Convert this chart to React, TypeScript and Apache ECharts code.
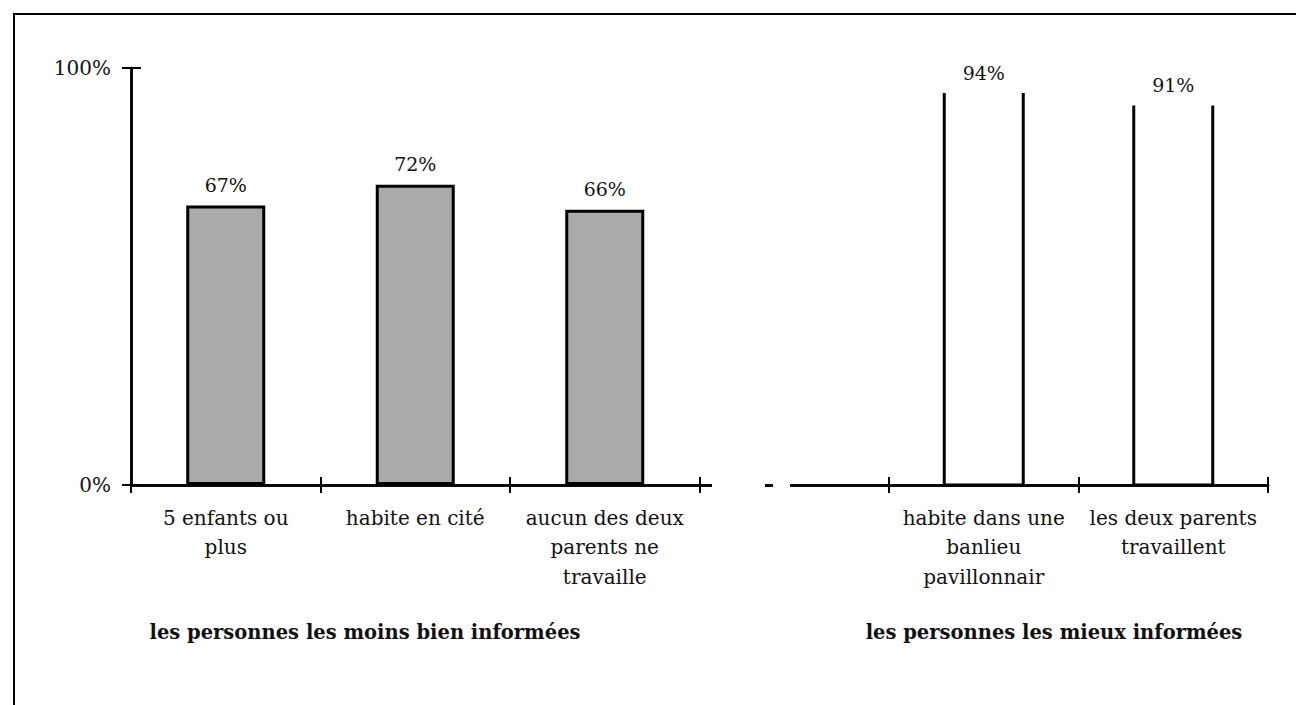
import React, { useEffect, useRef } from "react";
import * as echarts from "echarts";

const categories = [
  "5 enfants ou\nplus",
  "habite en cité",
  "aucun des deux\nparents ne\ntravaille",
  "",
  "habite dans une\nbanlieu\npavillonnair",
  "les deux parents\ntravaillent",
];
const leastInformed: (number | string)[] = [67, 72, 66, "-", "-", "-"];
const bestInformed: (number | string)[] = ["-", "-", "-", "-", 94, 91];
const yTicks = [0, 100];
const groupLeft = "les personnes les moins bien informées";
const groupRight = "les personnes les mieux informées";

const SERIF = "DejaVu Serif";

export default function App() {
  const ref = useRef<HTMLDivElement>(null);
  useEffect(() => {
    if (!ref.current) return;
    const chart = echarts.init(ref.current, null, { renderer: "svg" });
    const barW = 79;
    const gridBox = { left: 131, right: 28, top: 68, bottom: 220, containLabel: false };
    const lineStyle = { color: "#000", width: 2.5 };
    chart.setOption({
      animation: false,
      backgroundColor: "#ffffff",
      grid: [{ ...gridBox }, { ...gridBox }],
      xAxis: [
        {
          type: "category",
          gridIndex: 0,
          data: categories,
          position: "bottom",
          boundaryGap: true,
          axisLine: { show: true, onZero: false, lineStyle },
          axisTick: { show: true, length: 8, interval: 0, lineStyle: { color: "#000", width: 2 } },
          axisLabel: {
            interval: 0,
            margin: 18,
            fontFamily: SERIF,
            fontSize: 20,
            lineHeight: 29.5,
            color: "#111",
            align: "center",
          },
          splitLine: { show: false },
        },
        {
          type: "category",
          gridIndex: 1,
          data: categories,
          position: "bottom",
          boundaryGap: true,
          axisLine: { show: true, onZero: false, lineStyle },
          axisTick: { show: true, inside: true, length: 8, interval: 0, lineStyle: { color: "#000", width: 2 } },
          axisLabel: { show: false },
          splitLine: { show: false },
        },
      ],
      yAxis: [
        {
          type: "value",
          gridIndex: 0,
          min: 0,
          max: 100,
          interval: 100,
          position: "left",
          axisLine: { show: true, onZero: false, lineStyle },
          axisTick: { show: true, length: 9, lineStyle: { color: "#000", width: 2 } },
          axisLabel: {
            margin: 20,
            fontFamily: SERIF,
            fontSize: 20,
            color: "#111",
            formatter: (v: number) => (yTicks.indexOf(v) >= 0 ? v + "%" : ""),
          },
          splitLine: { show: false },
        },
        {
          type: "value",
          gridIndex: 1,
          min: 0,
          max: 100,
          interval: 100,
          position: "left",
          axisLine: { show: true, onZero: false, lineStyle },
          axisTick: { show: true, inside: true, length: 10, lineStyle: { color: "#000", width: 2 } },
          axisLabel: { show: false },
          splitLine: { show: false },
        },
      ],
      series: [
        {
          type: "bar",
          xAxisIndex: 0,
          yAxisIndex: 0,
          data: leastInformed,
          barWidth: barW,
          itemStyle: { color: "#aaaaaa", borderColor: "#000", borderWidth: 3 },
          label: {
            show: true,
            position: "top",
            distance: 11,
            fontFamily: SERIF,
            fontSize: 19,
            color: "#111",
            formatter: (p: any) => p.value + "%",
          },
          z: 3,
        },
        {
          type: "custom",
          xAxisIndex: 1,
          yAxisIndex: 1,
          data: bestInformed.map((v, i) => [i, v]),
          encode: { x: 0, y: 1 },
          renderItem: (params: any, api: any) => {
            const v = api.value(1);
            if (v === "-" || v === undefined || isNaN(v)) return null;
            const top = api.coord([api.value(0), v]);
            const base = api.coord([api.value(0), 0]);
            const l = top[0] - barW / 2;
            const r = top[0] + barW / 2;
            return {
              type: "group",
              children: [
                {
                  type: "polyline",
                  shape: { points: [[l, top[1]], [l, base[1]], [r, base[1]], [r, top[1]]] },
                  style: { stroke: "#000", lineWidth: 3, fill: "none" },
                },
                {
                  type: "text",
                  style: {
                    text: v + "%",
                    x: top[0],
                    y: top[1] - 11,
                    align: "center",
                    verticalAlign: "bottom",
                    fontFamily: SERIF,
                    fontSize: 19,
                    fill: "#111",
                  },
                },
              ],
            };
          },
          z: 3,
        },
      ],
      graphic: [
        { type: "line", shape: { x1: 13, y1: 14, x2: 1296, y2: 14 }, style: { stroke: "#000", lineWidth: 2 }, z: 100 },
        { type: "line", shape: { x1: 14, y1: 13, x2: 14, y2: 705 }, style: { stroke: "#000", lineWidth: 2 }, z: 100 },
        { type: "rect", shape: { x: 712, y: 476, width: 53, height: 18 }, style: { fill: "#fff" }, z: 100 },
        { type: "rect", shape: { x: 773, y: 476, width: 17, height: 18 }, style: { fill: "#fff" }, z: 100 },
        {
          type: "text",
          x: 365,
          y: 632,
          style: {
            text: groupLeft,
            align: "center",
            verticalAlign: "middle",
            fontFamily: SERIF,
            fontWeight: "bold",
            fontSize: 19.5,
            fill: "#111",
          },
          z: 100,
        },
        {
          type: "text",
          x: 1054,
          y: 632,
          style: {
            text: groupRight,
            align: "center",
            verticalAlign: "middle",
            fontFamily: SERIF,
            fontWeight: "bold",
            fontSize: 19.5,
            fill: "#111",
          },
          z: 100,
        },
      ],
    });
    return () => chart.dispose();
  }, []);
  return (
    <div
      ref={ref}
      style={{ position: "fixed", left: 0, top: 0, width: 1296, height: 705, background: "#fff" }}
    />
  );
}
